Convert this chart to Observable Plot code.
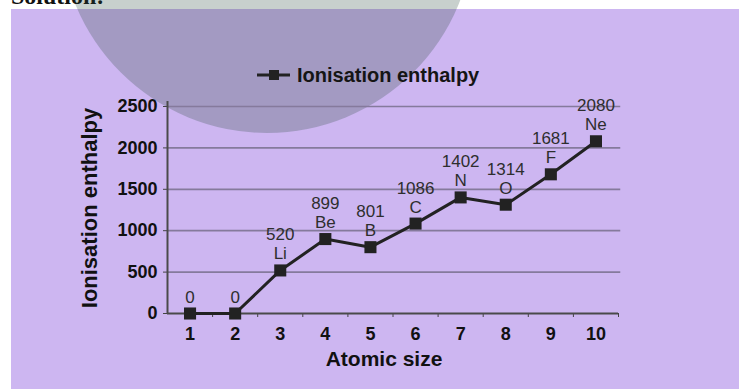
<!DOCTYPE html>
<html>
<head>
<meta charset="utf-8">
<script src="https://cdn.jsdelivr.net/npm/d3@7"></script>
<script src="https://cdn.jsdelivr.net/npm/@observablehq/plot@0.6"></script>
<style>
  html, body { margin: 0; padding: 0; background: #ffffff; }
  #wrap { position: relative; width: 739px; height: 389px; overflow: hidden; font-family: "Liberation Sans", Arial, sans-serif; }
  #panel { position: absolute; left: 11px; top: 9px; right: 0; bottom: 0; background: #cdb6f1; }
  #sol { position: absolute; left: 11px; top: -16px; font: bold 24px/1 "Liberation Serif", serif; color: #111; white-space: nowrap; }
  #circle { position: absolute; left: 60px; top: -281px; width: 414px; height: 414px; border-radius: 50%; background: rgba(44, 74, 60, 0.26); }
  #chart { position: absolute; left: 0; top: 0; }
  #legend { position: absolute; left: 257px; top: 64px; height: 22px; display: flex; align-items: center; }
  #legend span { margin-left: 7px; font: bold 20px "Liberation Sans", Arial, sans-serif; color: #151515; white-space: nowrap; }
</style>
</head>
<body>
<div id="wrap">
  <div id="panel"></div>
  <div id="sol">Solution:</div>
  <div id="circle"></div>
  <div id="chart"></div>
  <div id="legend">
    <svg width="33" height="22"><line x1="0" x2="33" y1="11" y2="11" stroke="#222" stroke-width="3"></line><rect x="12" y="6" width="10" height="10" fill="#222"></rect></svg>
    <span>Ionisation enthalpy</span>
  </div>
</div>
<script>
const atomicNumbers = [1, 2, 3, 4, 5, 6, 7, 8, 9, 10];
const enthalpy = [0, 0, 520, 899, 801, 1086, 1402, 1314, 1681, 2080];
const elements = ["", "", "Li", "Be", "B", "C", "N", "O", "F", "Ne"];
const yTicks = [0, 500, 1000, 1500, 2000, 2500];
const xTitle = "Atomic size";
const yTitle = "Ionisation enthalpy";

const data = atomicNumbers.map((x, i) => ({
  x,
  y: enthalpy[i],
  label: elements[i] ? `${enthalpy[i]}\n${elements[i]}` : `${enthalpy[i]}`
}));
const boundaries = atomicNumbers.map(d => d + 0.5);

const chart = Plot.plot({
  width: 739,
  height: 389,
  marginLeft: 167,
  marginRight: 121,
  marginTop: 106,
  marginBottom: 76,
  style: { background: "transparent", fontFamily: "Liberation Sans, Arial, sans-serif", color: "#111", overflow: "visible" },
  x: { type: "linear", domain: [0.5, 10.5], axis: null },
  y: { domain: [0, 2500], axis: null },
  marks: [
    Plot.ruleY(yTicks.filter(d => d > 0), { stroke: "#857a9c", strokeWidth: 1.7, x1: 0.5, x2: 10.55 }),
    Plot.axisY({ ticks: yTicks, tickSize: 4, tickPadding: 6, fontSize: 18, fontWeight: "bold", label: null, tickFormat: d => String(d), stroke: "#444" }),
    Plot.axisX({ ticks: boundaries, tickSize: 4, tickFormat: () => "", label: null, stroke: "#444" }),
    Plot.axisX({ ticks: atomicNumbers, tickSize: 0, tickPadding: 13.5, fontSize: 18, fontWeight: "bold", label: null, tickFormat: d => String(d) }),
    Plot.ruleY([0], { stroke: "#4a4a4a", strokeWidth: 2 }),
    Plot.ruleX([0.5], { stroke: "#4a4a4a", strokeWidth: 2, y1: 0, y2: 2560 }),
    Plot.line(data, { x: "x", y: "y", stroke: "#222", strokeWidth: 3 }),
    Plot.dot(data, { x: "x", y: "y", symbol: "square", r: 6.8, fill: "#222", stroke: "none" }),
    Plot.text(data, { x: "x", y: "y", text: "label", dy: -11, lineAnchor: "bottom", lineHeight: 1.12, fontSize: 17, fill: "#2e2e2e", fontWeight: "normal" }),
    Plot.text([xTitle], { text: d => d, frameAnchor: "bottom", lineAnchor: "middle", textAnchor: "middle", dy: 46, dx: -9, fontSize: 21, fontWeight: "bold", fill: "#111" }),
    Plot.text([yTitle], { text: d => d, frameAnchor: "left", lineAnchor: "middle", textAnchor: "middle", rotate: -90, dx: -77.5, dy: -2, fontSize: 22, fontWeight: "bold", fill: "#111" })
  ]
});
document.getElementById("chart").appendChild(chart);
</script>
</body>
</html>
